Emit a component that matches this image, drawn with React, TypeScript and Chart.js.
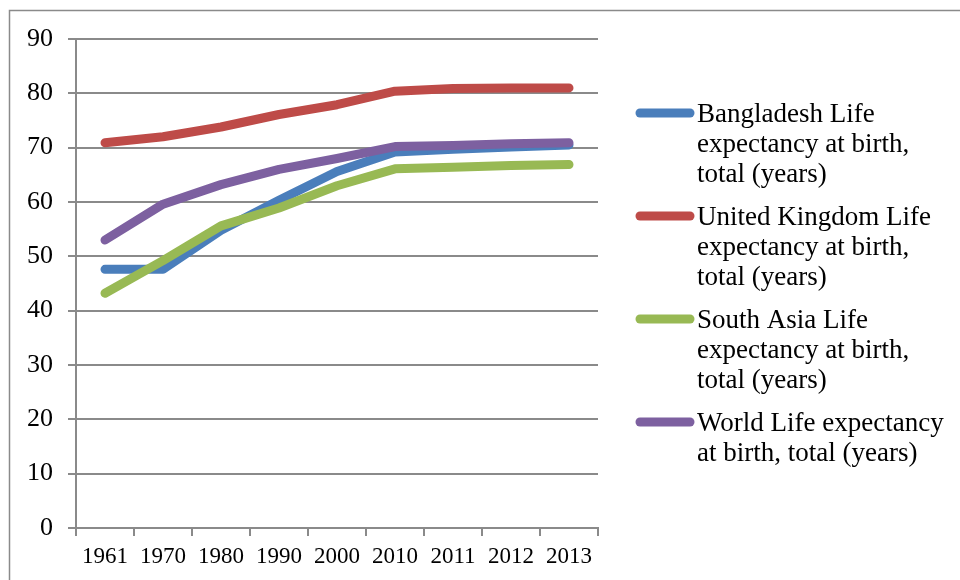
import React, { useEffect, useRef } from "react";
import { Chart, registerables } from "chart.js";

Chart.register(...registerables);

const years = ["1961", "1970", "1980", "1990", "2000", "2010", "2011", "2012", "2013"];
const seriesNames = [
  "Bangladesh Life expectancy at birth, total (years)",
  "United Kingdom Life expectancy at birth, total (years)",
  "South Asia Life expectancy at birth, total (years)",
  "World Life expectancy at birth, total (years)",
];
const bangladesh = [47.6, 47.6, 54.8, 60.3, 65.6, 69.2, 69.7, 70.1, 70.5];
const unitedKingdom = [70.9, 72.0, 73.8, 76.1, 77.9, 80.4, 80.9, 81.0, 81.0];
const southAsia = [43.2, 49.2, 55.6, 58.9, 63.0, 66.1, 66.4, 66.7, 66.9];
const world = [53.0, 59.6, 63.2, 66.0, 68.0, 70.2, 70.4, 70.7, 70.9];
const colors = ["#4A7EBB", "#BE4B48", "#98B954", "#7D60A0"];

const FONT = "'Liberation Serif', 'Times New Roman', serif";

const frameAndLegend = {
  id: "frameAndLegend",
  beforeDraw(chart: any) {
    const ctx = chart.ctx;
    ctx.save();
    ctx.fillStyle = "#ffffff";
    ctx.fillRect(0, 0, chart.width, chart.height);
    ctx.strokeStyle = "#8a8a8a";
    ctx.lineWidth = 1.5;
    ctx.strokeRect(9.5, 10.5, 2000, 2000);
    ctx.restore();
  },
  afterDraw(chart: any) {
    const ctx = chart.ctx;
    ctx.save();
    ctx.font = `27px ${FONT}`;
    ctx.textBaseline = "alphabetic";
    ctx.textAlign = "left";
    const maxW = 255;
    let baseline = 122;
    chart.data.datasets.forEach((ds: any) => {
      const words = String(ds.label).split(" ");
      const lines: string[] = [];
      let cur = "";
      words.forEach((w) => {
        const t = cur ? cur + " " + w : w;
        if (ctx.measureText(t).width > maxW && cur) {
          lines.push(cur);
          cur = w;
        } else cur = t;
      });
      if (cur) lines.push(cur);
      ctx.strokeStyle = ds.borderColor;
      ctx.lineWidth = 9;
      ctx.lineCap = "round";
      ctx.beginPath();
      ctx.moveTo(640, baseline - 9);
      ctx.lineTo(690, baseline - 9);
      ctx.stroke();
      ctx.fillStyle = "#000";
      lines.forEach((l, i) => ctx.fillText(l, 697, baseline + i * 30));
      baseline += (lines.length - 1) * 30 + 43;
    });
    ctx.restore();
  },
};

export default function App() {
  const ref = useRef<HTMLCanvasElement>(null);
  useEffect(() => {
    if (!ref.current) return;
    const all = [bangladesh, unitedKingdom, southAsia, world];
    const orders = [3, 2, 1, 0];
    const chart = new Chart(ref.current, {
      type: "line",
      data: {
        labels: years,
        datasets: all.map((d, i) => ({
          label: seriesNames[i],
          data: d,
          borderColor: colors[i],
          backgroundColor: colors[i],
          borderWidth: 9,
          pointRadius: 0,
          tension: 0,
          borderCapStyle: "round",
          borderJoinStyle: "round",
          order: orders[i],
        })),
      },
      options: {
        responsive: false,
        animation: false,
        layout: { padding: { left: 27, top: 39, right: 362, bottom: 0 } },
        plugins: { legend: { display: false }, tooltip: { enabled: false } },
        scales: {
          x: {
            offset: true,
            grid: {
              offset: true,
              drawOnChartArea: false,
              drawTicks: true,
              tickLength: 8,
              color: "#8a8a8a",
              lineWidth: 2,
            },
            border: { color: "#8a8a8a", width: 2 },
            ticks: { font: { family: FONT, size: 23 }, color: "#000", padding: 7, maxRotation: 0, autoSkip: false },
            afterFit: (s: any) => {
              s.height = 52;
            },
          },
          y: {
            min: 0,
            max: 90,
            grid: { color: "#8a8a8a", lineWidth: 2, tickLength: 8 },
            border: { color: "#8a8a8a", width: 2 },
            ticks: { stepSize: 10, font: { family: FONT, size: 26 }, color: "#000", padding: 15 },
            afterFit: (s: any) => {
              s.width = 49;
            },
          },
        },
      },
      plugins: [frameAndLegend],
    } as any);
    return () => chart.destroy();
  }, []);
  return (
    <div style={{ position: "fixed", left: 0, top: 0, width: 960, height: 580, background: "#fff" }}>
      <canvas ref={ref} width={960} height={580} style={{ display: "block" }} />
    </div>
  );
}
